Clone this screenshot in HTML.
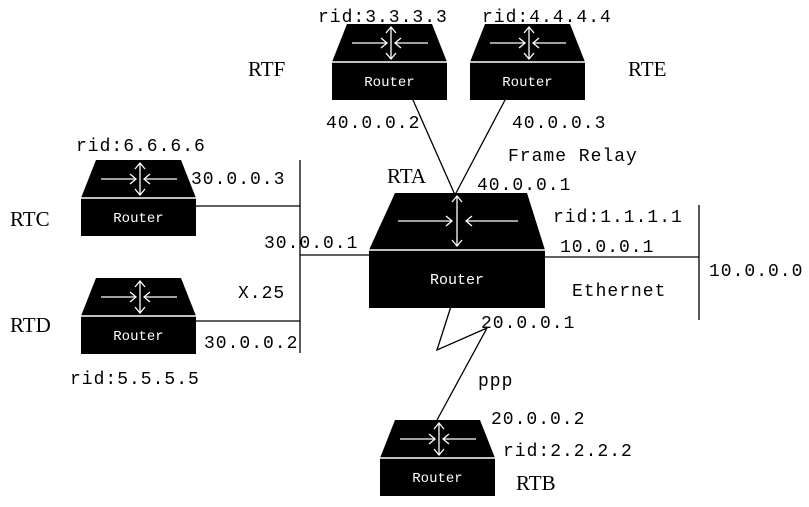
<!DOCTYPE html>
<html><head><meta charset="utf-8"><style>
html,body{margin:0;padding:0;background:#fff;}
svg text{font-family:"Liberation Mono","Noto Sans CJK SC",monospace;font-size:18px;letter-spacing:1px;fill:#000;}
svg text.rt{font-family:"Liberation Serif",serif;font-size:21px;letter-spacing:0;}
svg text.r{font-size:14px;fill:#fff;letter-spacing:0;}
</style></head><body>
<svg width="809" height="502" viewBox="0 0 809 502" xmlns="http://www.w3.org/2000/svg">
<defs>
<g id="rt">
 <polygon points="15,0 100,0 115,38 0,38" fill="#000"/>
 <rect x="0" y="38" width="115" height="38" fill="#000"/>
 <line x1="0" y1="38" x2="115" y2="38" stroke="#fff" stroke-width="1.5"/>
 <g stroke="#fff" stroke-width="1.3" fill="none">
  <line x1="20" y1="19" x2="55" y2="19"/><polyline points="49,14 55,19 49,24"/>
  <line x1="96" y1="19" x2="63" y2="19"/><polyline points="69,14 63,19 69,24"/>
  <line x1="59" y1="3" x2="59" y2="35"/><polyline points="54,9 59,3 64,9"/><polyline points="54,29 59,35 64,29"/>
 </g>
 <text class="r" x="57.5" y="62" text-anchor="middle">Router</text>
</g>
</defs>
<g stroke="#000" stroke-width="1.3" fill="none">
 <line x1="196" y1="206" x2="300" y2="206"/>
 <line x1="300" y1="160" x2="300" y2="353"/>
 <line x1="196" y1="321" x2="300" y2="321"/>
 <line x1="300" y1="255" x2="370" y2="255"/>
 <line x1="545" y1="257" x2="699" y2="257"/>
 <line x1="699" y1="205" x2="699" y2="320"/>
 <line x1="413" y1="100" x2="455" y2="195"/>
 <line x1="505" y1="100" x2="455" y2="195"/>
 <polyline points="453,300 437,350 487,328 437,420"/>
</g>
<use href="#rt" x="332" y="24"/>
<use href="#rt" x="470" y="24"/>
<use href="#rt" x="81" y="160"/>
<use href="#rt" x="81" y="278"/>
<use href="#rt" x="380" y="420"/>
<g>
 <polygon points="395,193 527,193 545,250 369,250" fill="#000"/>
 <rect x="369" y="250" width="176" height="58" fill="#000"/>
 <line x1="369" y1="250" x2="545" y2="250" stroke="#fff" stroke-width="1.5"/>
 <g stroke="#fff" stroke-width="1.3" fill="none">
  <line x1="398" y1="221" x2="452" y2="221"/><polyline points="446,216 452,221 446,226"/>
  <line x1="518" y1="221" x2="466" y2="221"/><polyline points="472,216 466,221 472,226"/>
  <line x1="457" y1="196" x2="457" y2="246"/><polyline points="452,202 457,196 462,202"/><polyline points="452,240 457,246 462,240"/>
 </g>
 <text class="r" x="457" y="284" text-anchor="middle" style="font-size:15px">Router</text>
</g>
<text x="318" y="22">rid:3.3.3.3</text>
<text x="482" y="22">rid:4.4.4.4</text>
<text class="rt" x="248" y="76">RTF</text>
<text class="rt" x="628" y="76">RTE</text>
<text x="326" y="128">40.0.0.2</text>
<text x="512" y="128">40.0.0.3</text>
<text x="508" y="161">Frame Relay</text>
<text class="rt" x="387" y="183">RTA</text>
<text x="477" y="190">40.0.0.1</text>
<text x="76" y="151">rid:6.6.6.6</text>
<text x="191" y="184">30.0.0.3</text>
<text class="rt" x="10" y="226">RTC</text>
<text x="264" y="248">30.0.0.1</text>
<text x="238" y="298">X.25</text>
<text class="rt" x="10" y="332">RTD</text>
<text x="204" y="348">30.0.0.2</text>
<text x="70" y="384">rid:5.5.5.5</text>
<text x="553" y="222">rid:1.1.1.1</text>
<text x="560" y="252">10.0.0.1</text>
<text x="709" y="276">10.0.0.0</text>
<text x="572" y="296">Ethernet</text>
<text x="481" y="328">20.0.0.1</text>
<text x="478" y="386">ppp</text>
<text x="491" y="424">20.0.0.2</text>
<text x="503" y="456">rid:2.2.2.2</text>
<text class="rt" x="516" y="490">RTB</text>
</svg>
</body></html>
